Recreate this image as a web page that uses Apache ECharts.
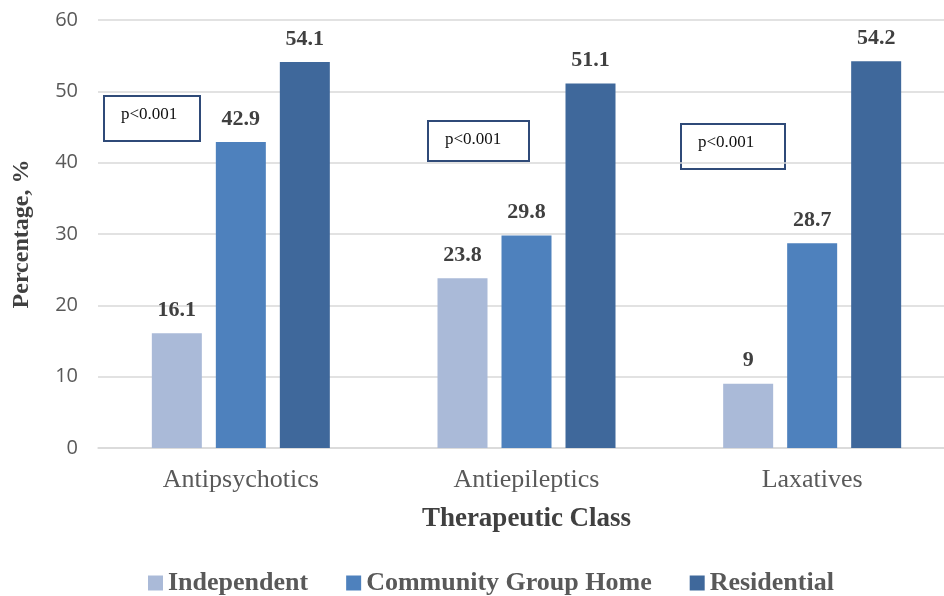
<!DOCTYPE html>
<html>
<head>
<meta charset="utf-8">
<script src="https://cdn.jsdelivr.net/npm/echarts@6/dist/echarts.min.js"></script>
<style>
  html, body { margin: 0; padding: 0; background: #fff; }
  #chart { width: 944px; height: 596px; }
</style>
</head>
<body>
<div id="chart"></div>
<script>
var categories = ['Antipsychotics', 'Antiepileptics', 'Laxatives'];
var independent = [16.1, 23.8, 9];
var groupHome = [42.9, 29.8, 28.7];
var residential = [54.1, 51.1, 54.2];
var yTicks = [0, 10, 20, 30, 40, 50, 60];

var serif = '"Liberation Serif", "DejaVu Serif", serif';
var sans = '"Open Sans", "Liberation Sans", sans-serif';

var chart = echarts.init(document.getElementById('chart'));

function barSeries(name, data, color) {
    return {
        name: name,
        type: 'bar',
        data: data,
        barWidth: 50,
        barGap: '28%',
        itemStyle: { color: color },
        label: {
            show: true,
            position: 'top',
            distance: 12,
            fontFamily: serif,
            fontWeight: 'bold',
            fontSize: 22,
            color: '#404040'
        }
    };
}

// p-value boxes
function pBox(x, y, w, h) {
    return {
        type: 'group',
        left: x,
        top: y,
        children: [
            {
                type: 'rect',
                shape: { x: 0, y: 0, width: w, height: h },
                style: { fill: '#fff', stroke: '#2f4a78', lineWidth: 2 }
            },
            {
                type: 'text',
                x: 17,
                y: 10,
                style: { text: 'p<0.001', font: '17px ' + serif, fill: '#111' }
            }
        ]
    };
}

var option = {
    backgroundColor: '#fff',
    animation: false,
    grid: { left: 98, top: 20, width: 857, height: 428, containLabel: false, outerBoundsMode: 'none' },
    legend: {
        bottom: -5,
        left: 143,
        itemWidth: 15,
        itemHeight: 15,
        itemGap: 38,
        icon: 'rect',
        textStyle: { fontFamily: serif, fontSize: 26, fontWeight: 'bold', color: '#595959' },
        data: ['Independent', 'Community Group Home', 'Residential']
    },
    xAxis: {
        type: 'category',
        data: categories,
        name: 'Therapeutic Class',
        nameLocation: 'middle',
        nameGap: 58,
        nameTextStyle: { fontFamily: serif, fontSize: 27, fontWeight: 'bold', color: '#404040' },
        axisTick: { show: false },
        axisLine: { lineStyle: { color: '#d9d9d9', width: 1.5 } },
        axisLabel: { fontFamily: serif, fontSize: 26, color: '#595959', margin: 19 }
    },
    yAxis: {
        type: 'value',
        min: yTicks[0],
        max: yTicks[yTicks.length - 1],
        interval: 10,
        name: 'Percentage, %',
        nameLocation: 'middle',
        nameGap: 64,
        nameTextStyle: { fontFamily: serif, fontSize: 24, fontWeight: 'bold', color: '#404040' },
        axisLine: { show: false },
        axisTick: { show: false },
        splitLine: { lineStyle: { color: '#d9d9d9', width: 1.5 } },
        axisLabel: { fontFamily: sans, fontSize: 20, color: '#595959', margin: 20 }
    },
    graphic: [
        pBox(103, 95, 96, 45),
        pBox(427, 120, 101, 40),
        pBox(680, 123, 104, 45)
    ],
    series: [
        barSeries('Independent', independent, '#aabad8'),
        barSeries('Community Group Home', groupHome, '#4e81bd'),
        barSeries('Residential', residential, '#3f689b')
    ]
};

chart.setOption(option);
</script>
</body>
</html>
